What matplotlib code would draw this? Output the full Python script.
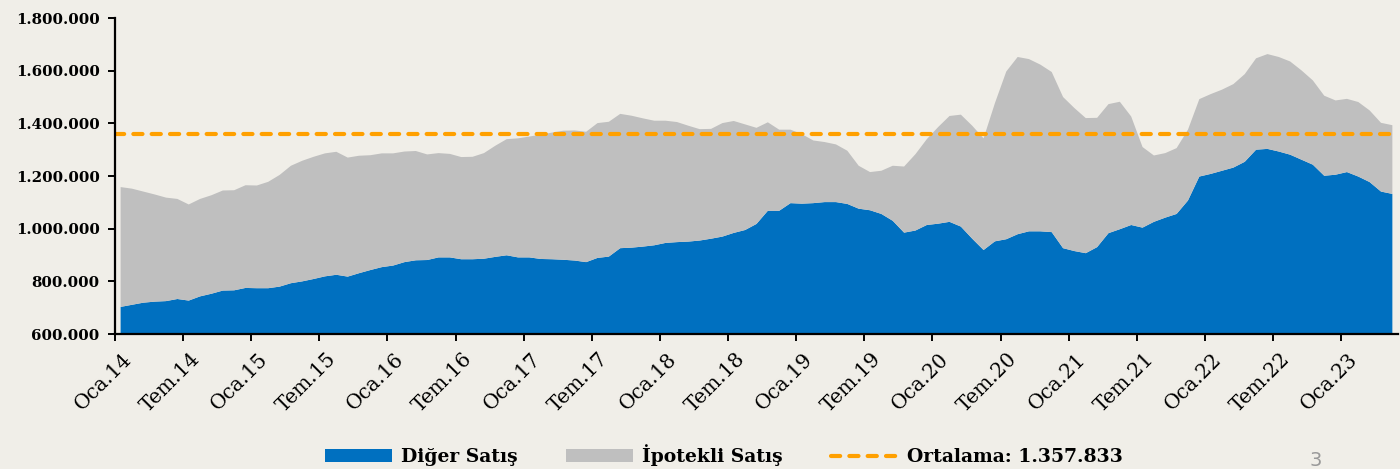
''' Konut satislari: Diger / Ipotekli (yillik toplam), 2014-2023
'''

import matplotlib
matplotlib.use('Agg')
import matplotlib.pyplot as plt  # noqa E402
import matplotlib.transforms as mtransforms  # noqa E402
from matplotlib.ticker import FuncFormatter  # noqa E402
import numpy as np  # noqa E402

# aylik veriler, Oca.14 - May.23 (bin adet)
diger_satis = [
    703, 711, 719, 723, 725, 733, 727, 743, 753, 765, 766, 775,
    774, 774, 780, 793, 800, 809, 819, 825, 818, 831, 843, 854,
    860, 873, 880, 881, 891, 891, 884, 884, 886, 893, 899, 891,
    891, 885, 884, 882, 879, 873, 889, 894, 926, 928, 932, 937,
    946, 949, 951, 955, 962, 970, 984, 995, 1018, 1068, 1068, 1097,
    1095, 1097, 1101, 1101, 1094, 1076, 1070, 1056, 1030, 985, 993, 1014,
    1019, 1026, 1008, 962, 919, 952, 960, 979, 990, 990, 987, 926,
    915, 907, 930, 983, 998, 1014, 1004, 1026, 1042, 1056, 1107, 1198,
    1208, 1220, 1232, 1254, 1300, 1303, 1293, 1281, 1262, 1243, 1201, 1205,
    1215, 1198, 1177, 1141, 1132]

ipotekli_satis = [
    455, 441, 422, 407, 393, 380, 365, 370, 374, 380, 380, 390,
    390, 404, 424, 446, 458, 464, 467, 467, 452, 446, 436, 432,
    426, 420, 415, 401, 396, 393, 388, 389, 401, 422, 441, 452,
    459, 472, 481, 490, 494, 495, 512, 512, 510, 501, 487, 473,
    464, 456, 440, 423, 417, 431, 425, 401, 365, 336, 308, 279,
    264, 238, 228, 219, 202, 163, 145, 164, 209, 251, 290, 326,
    367, 402, 425, 429, 424, 525, 637, 673, 654, 633, 608, 574,
    543, 513, 491, 490, 484, 412, 306, 252, 245, 250, 269, 294,
    303, 308, 317, 333, 347, 360, 359, 354, 339, 320, 304, 282,
    278, 283, 272, 261, 261]

ortalama = 1357833

tick_labels = ["Oca.14", "Tem.14", "Oca.15", "Tem.15", "Oca.16", "Tem.16",
               "Oca.17", "Tem.17", "Oca.18", "Tem.18", "Oca.19", "Tem.19",
               "Oca.20", "Tem.20", "Oca.21", "Tem.21", "Oca.22", "Tem.22",
               "Oca.23"]

BG = '#F0EEE8'
BLUE = '#0070C0'
GREY = '#BFBFBF'
ORANGE = '#FFA000'

plt.rcParams['font.family'] = 'DejaVu Serif'

diger = np.array(diger_satis) * 1000
ipotekli = np.array(ipotekli_satis) * 1000
n = len(diger)
x = np.arange(n) + 0.5

fig = plt.figure(figsize=(14, 4.69), dpi=100, facecolor=BG)
ax = fig.add_axes([0.0821, 0.2878, 0.9165, 0.6738], facecolor=BG)

ax.stackplot(x, diger, ipotekli, colors=[BLUE, GREY], linewidth=0,
             labels=["Diğer Satış", "İpotekli Satış"])
ax.plot([0, n], [ortalama, ortalama], color=ORANGE, lw=3,
        dashes=(2.2, 2.2), dash_capstyle='round',
        label="Ortalama: {:,}".format(ortalama).replace(",", "."))

ax.set_xlim(0, n)
ax.set_ylim(600000, 1800000)
ax.set_yticks(np.arange(600000, 1800001, 200000))
ax.yaxis.set_major_formatter(
    FuncFormatter(lambda v, p: "{:,.0f}".format(v).replace(",", ".")))
ax.set_xticks(np.arange(0, n, 6))

for side in ['top', 'right']:
    ax.spines[side].set_visible(False)
for side in ['left', 'bottom']:
    ax.spines[side].set_linewidth(1.6)
    ax.spines[side].set_zorder(5)
ax.tick_params(axis='both', direction='out', length=5, width=1.4,
               color='black', labelcolor='black')
ax.tick_params(axis='y', pad=6)
ax.tick_params(axis='x', pad=3)

ax.set_xticklabels(tick_labels, rotation=45, ha='right',
                   rotation_mode='anchor', fontsize=14.5)
for lbl in ax.get_yticklabels():
    lbl.set_fontweight('bold')
    lbl.set_fontsize(10.8)

# kaydirma tick_params'tan sonra olmali, yoksa sifirlaniyor
shift = mtransforms.ScaledTranslation(5 / 72, -3 / 72, fig.dpi_scale_trans)
for lbl in ax.get_xticklabels():
    lbl.set_transform(lbl.get_transform() + shift)

leg = fig.legend(loc='center', bbox_to_anchor=(0.517, 0.029), ncol=3,
                 frameon=False, handlelength=3.6, handleheight=0.7,
                 columnspacing=2.6, handletextpad=0.45,
                 prop={'weight': 'bold', 'size': 13.5})

fig.text(0.94, 0.018, "3", color='#999999', fontsize=14,
         family='DejaVu Sans', ha='center', va='center')

fig.savefig('out.png', dpi=100, facecolor=BG)
plt.close(fig)
